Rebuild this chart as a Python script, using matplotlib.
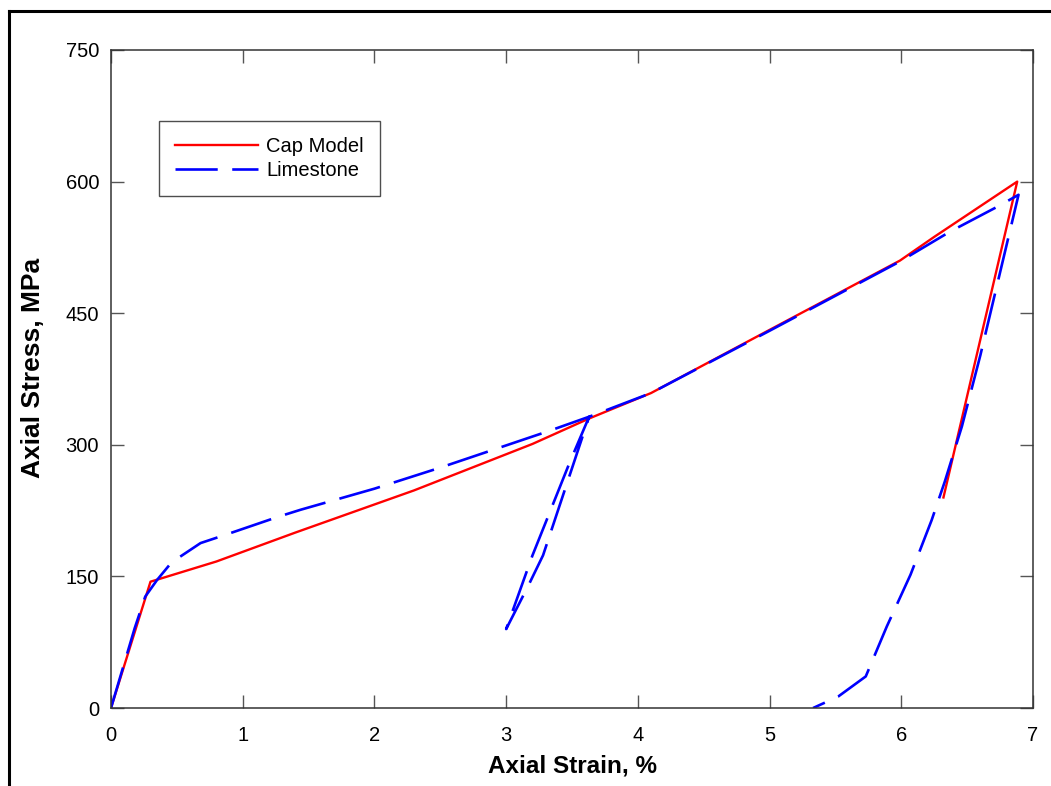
import matplotlib
matplotlib.use("Agg")
import matplotlib.pyplot as plt
from matplotlib.lines import Line2D

# Cap Model (red, solid): loading path then final unloading
cap_strain = [0.0, 0.1, 0.3, 0.8, 1.4, 2.3, 3.2, 3.63, 4.1, 5.0, 5.99, 6.25, 6.88, 6.32]
cap_stress = [0, 48, 144, 167, 200, 248, 301, 330, 359, 431, 510, 537, 600, 240]

# Limestone test (blue, dashed): loading, unload/reload loop near 3.6 %, final unload
lime_strain = [0.0, 0.18, 0.26, 0.35, 0.46, 0.68, 0.88, 1.27, 1.44, 2.0, 2.5, 3.31, 3.63,
               3.28, 3.17, 3.0, 3.2, 3.48, 3.63,
               4.1, 5.0, 5.99, 6.37, 6.75, 6.89,
               6.6, 6.46, 6.33, 6.23, 6.07, 5.89, 5.73, 5.52, 5.33]
lime_stress = [0, 91, 127, 146, 166, 188, 198, 218, 226, 250, 274, 315, 332,
               174, 140, 90, 174, 279, 332,
               359, 430, 509, 543, 573, 585,
               402, 321, 258, 214, 152, 93, 36, 13, 0]

x_ticks = [0, 1, 2, 3, 4, 5, 6, 7]
y_ticks = [0, 150, 300, 450, 600, 750]

plt.rcParams["font.family"] = ["Liberation Sans", "DejaVu Sans"]

fig = plt.figure(figsize=(10.51, 7.86), dpi=100)
ax = fig.add_axes([0.1056, 0.0992, 0.8773, 0.8372])

ax.plot(cap_strain, cap_stress, color="#ff0000", lw=1.7, label="Cap Model")
ax.plot(lime_strain, lime_stress, color="#0000ff", lw=1.9,
        linestyle=(0, (16, 5.5)), label="Limestone")

ax.set_xlim(0, 7)
ax.set_ylim(0, 750)
ax.set_xticks(x_ticks)
ax.set_yticks(y_ticks)
ax.tick_params(direction="in", length=9.5, width=1, color="#555555",
               top=True, right=True, labelsize=14.5)
ax.tick_params(axis="x", pad=13)
ax.tick_params(axis="y", pad=8.5)
for s in ax.spines.values():
    s.set_color("#333333")
    s.set_linewidth(1.1)

ax.set_xlabel("Axial Strain, %", fontsize=17.5, fontweight="bold")
ax.set_ylabel("Axial Stress, MPa", fontsize=19, fontweight="bold")
ax.xaxis.set_label_coords(0.5, -0.07)
ax.yaxis.set_label_coords(-0.072, 0.517)

leg = ax.legend(loc="upper left", bbox_to_anchor=(0.0524, 0.8926), fontsize=14.5,
                frameon=True, fancybox=False, handlelength=4.1, handletextpad=0.4,
                labelspacing=0.25, borderpad=0.8, borderaxespad=0)
leg.get_frame().set_edgecolor("#222222")
leg.get_frame().set_linewidth(1.0)

# outer frame lines (top and left) of the original page
fig.add_artist(Line2D([0.0081, 1.0], [0.9855, 0.9855], color="black", lw=2.2))
fig.add_artist(Line2D([0.0081, 0.0081], [0.0, 0.9855], color="black", lw=2.2))

fig.savefig("out.png", dpi=100)
